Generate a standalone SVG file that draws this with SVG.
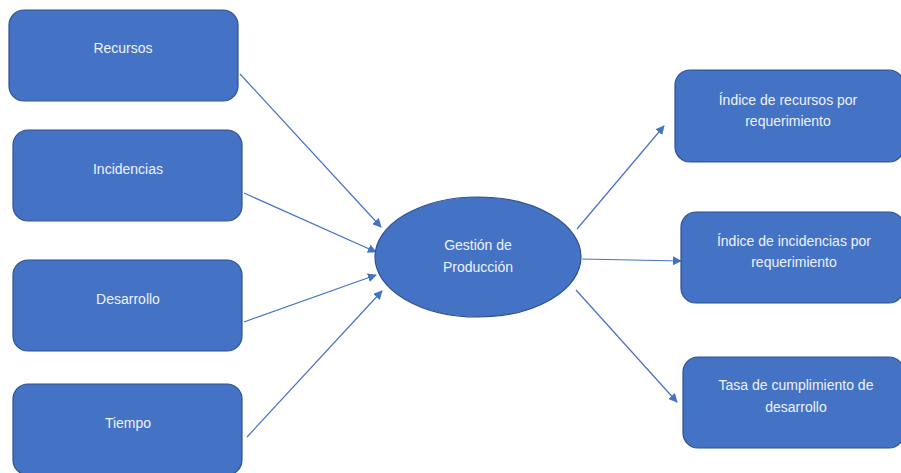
<svg xmlns="http://www.w3.org/2000/svg" width="901" height="473" viewBox="0 0 901 473">
  <style>
    .box { fill: #4472C4; stroke: #2F528F; stroke-width: 1.2; }
    .lbl { font-family: "Liberation Sans", Arial, sans-serif; font-size: 14px; fill: #EEF2FA; text-anchor: middle; }
    .conn { stroke: #4472C4; stroke-width: 1.2; fill: none; marker-end: url(#arrow); }
  </style>
  <defs>
    <marker id="arrow" viewBox="0 0 10 10" refX="9" refY="5" markerWidth="9" markerHeight="9" markerUnits="userSpaceOnUse" orient="auto">
      <path d="M0,0 L10,5 L0,10 Z" fill="#4472C4"/>
    </marker>
  </defs>
  <rect width="901" height="473" fill="#FFFFFF"/>

  <g id="connectors">
    <line class="conn" x1="240" y1="74" x2="381" y2="227"/>
    <line class="conn" x1="244" y1="193" x2="376" y2="252"/>
    <line class="conn" x1="244" y1="322" x2="376" y2="275"/>
    <line class="conn" x1="247" y1="437" x2="382" y2="291"/>
    <line class="conn" x1="577" y1="229" x2="664" y2="126"/>
    <line class="conn" x1="582" y1="259" x2="681" y2="261"/>
    <line class="conn" x1="576" y1="290" x2="677" y2="402"/>
  </g>

  <g id="recursos">
    <rect class="box" x="9" y="10" width="229" height="91" rx="15"/>
    <text class="lbl" x="123" y="53">Recursos</text>
  </g>
  <g id="incidencias">
    <rect class="box" x="13" y="130" width="229" height="91" rx="15"/>
    <text class="lbl" x="128" y="174">Incidencias</text>
  </g>
  <g id="desarrollo">
    <rect class="box" x="13" y="260" width="229" height="91" rx="15"/>
    <text class="lbl" x="128" y="304">Desarrollo</text>
  </g>
  <g id="tiempo">
    <rect class="box" x="13" y="384" width="229" height="91" rx="15"/>
    <text class="lbl" x="128" y="428">Tiempo</text>
  </g>

  <g id="gestion">
    <ellipse class="box" cx="478" cy="257" rx="103" ry="60"/>
    <text class="lbl" x="478" y="250">Gestión de</text>
    <text class="lbl" x="478" y="272">Producción</text>
  </g>

  <g id="indice-recursos">
    <rect class="box" x="675" y="70" width="229" height="92" rx="15"/>
    <text class="lbl" x="788" y="105">Índice de recursos por</text>
    <text class="lbl" x="788" y="126">requerimiento</text>
  </g>
  <g id="indice-incidencias">
    <rect class="box" x="681" y="212" width="223" height="91" rx="15"/>
    <text class="lbl" x="794" y="246">Índice de incidencias por</text>
    <text class="lbl" x="794" y="267">requerimiento</text>
  </g>
  <g id="tasa-cumplimiento">
    <rect class="box" x="683" y="357" width="221" height="91" rx="15"/>
    <text class="lbl" x="796" y="390">Tasa de cumplimiento de</text>
    <text class="lbl" x="796" y="412">desarrollo</text>
  </g>
</svg>
